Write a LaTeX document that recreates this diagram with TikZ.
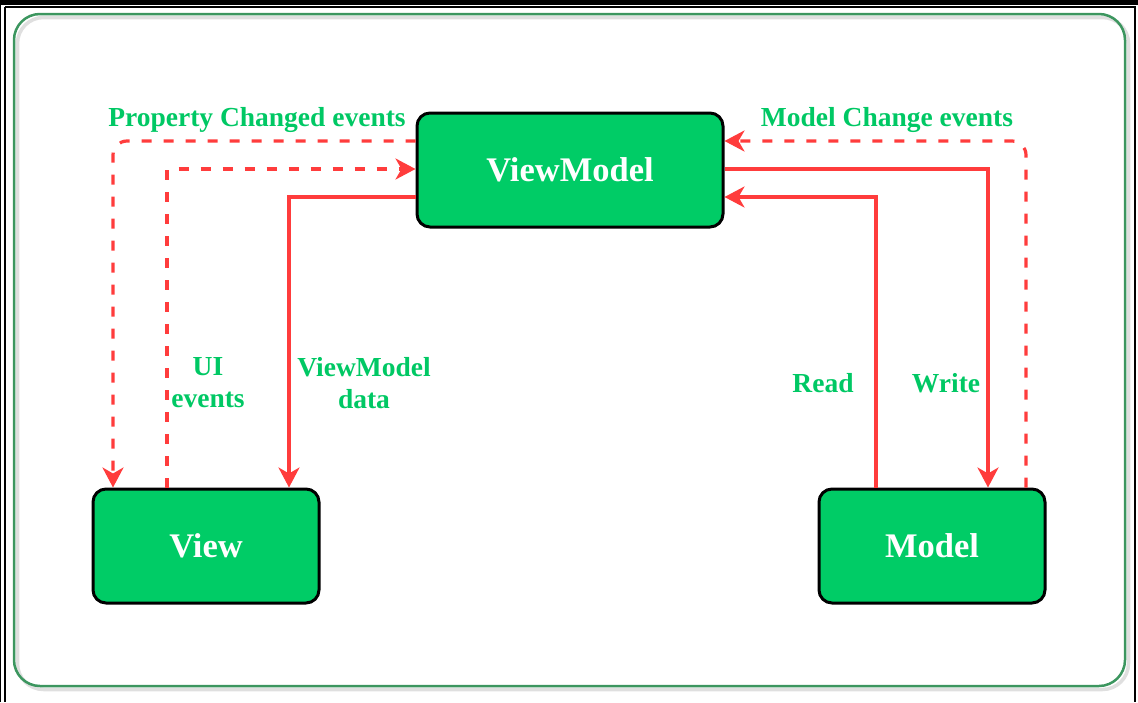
\documentclass[tikz,border=0pt]{standalone}
\usepackage{fontspec}
\setmainfont{Liberation Serif}
\usetikzlibrary{arrows.meta}
\definecolor{boxgreen}{RGB}{0,204,102}
\definecolor{labgreen}{RGB}{0,200,100}
\definecolor{framegreen}{RGB}{60,150,95}
\definecolor{arrred}{RGB}{255,60,60}
\begin{document}
\begin{tikzpicture}[x=1pt,y=-1pt,
  box/.style={draw=black, line width=3pt, fill=boxgreen, rounded corners=13pt,
    minimum width=226pt, minimum height=114pt, inner sep=0pt,
    font=\fontsize{34.5}{38}\selectfont\bfseries, text=white},
  lab/.style={font=\fontsize{27.5}{32}\selectfont\bfseries, text=labgreen, align=center, inner sep=0pt},
  conn/.style={draw=arrred, line width=3.2pt, -{Stealth[length=20pt,width=21pt,inset=6pt]}},
  dsh/.style={dash pattern=on 10pt off 12pt}]
\useasboundingbox (0,0) rectangle (1138,702);
% outer frame
\fill[black] (0,0) rectangle (1138,4.5);
\draw[black, line width=1.3pt] (5,7) -- (1135,7) -- (1135,702);
\draw[black, line width=1.3pt] (5,7) -- (5,702);
\draw[black, line width=1pt] (0.8,4) -- (0.8,702);
% green container with soft shadow
\draw[gray!25, line width=3.5pt, rounded corners=26pt] (17.5,17.5) rectangle (1128.5,689.5);
\draw[framegreen, line width=2.5pt, rounded corners=26pt] (14,14) rectangle (1125,686);
% boxes
\node[box, minimum width=306pt] (vm) at (570,170) {\raisebox{-2pt}{ViewModel}};
\node[box] (view) at (206,546) {\raisebox{-2pt}{View}};
\node[box] (model) at (932,546) {\raisebox{-2pt}{Model}};
% connectors
\draw[conn, dsh, rounded corners=14pt] (vm.west |- 0,141) -- (113,141) -- (view.north -| 113,0);
\draw[conn, dsh] (view.north -| 167,0) -- (167,169) -- (vm.west |- 0,169);
\draw[conn] (vm.west |- 0,197) -- (289,197) -- (view.north -| 289,0);
\draw[conn, dsh, rounded corners=14pt] (model.north -| 1026,0) -- (1026,141) -- (vm.east |- 0,141);
\draw[conn] (vm.east |- 0,169) -- (988,169) -- (model.north -| 988,0);
\draw[conn] (model.north -| 876,0) -- (876,197) -- (vm.east |- 0,197);
% labels
\node[lab] (lpc) at (257,120) {Property Changed events};
\node[lab] (lmc) at (887,120) {Model Change events};
\node[lab] (lui) at (208,383) {UI\\events};
\node[lab] (lvd) at (364,383) {ViewModel\\data};
\node[lab] (lr) at (823,383) {Read};
\node[lab] (lw) at (946,383) {Write};
\end{tikzpicture}
\end{document}
